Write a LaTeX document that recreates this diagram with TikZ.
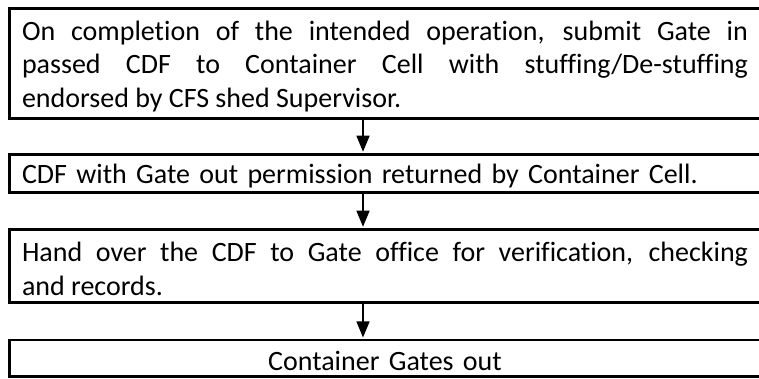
\documentclass[tikz,border=0pt]{standalone}
\usepackage{fontspec}
\setmainfont{Carlito}[Ligatures={NoCommon}]
\usetikzlibrary{arrows.meta}
\hyphenpenalty=10000\relax
\exhyphenpenalty=10000\relax
\begin{document}
\begin{tikzpicture}[x=1pt,y=-1pt,
  box/.style={draw, line width=2.5pt, minimum width=751pt, text width=726pt,
    inner xsep=0pt, inner ysep=0pt,
    font=\fontsize{28}{33.4}\selectfont,
    execute at begin node={\rule{0pt}{25.5pt}}},
  arr/.style={line width=1.3pt, -{Triangle[length=16pt,width=13pt]}, shorten >=1.3pt}]
\useasboundingbox (0,0) rectangle (759,379);
\clip (0,0) rectangle (759,379);
\node[box, align=justify, minimum height=110.4pt] (b1) at (385,63.5)
  {On completion of the intended operation, submit Gate in\linebreak passed CDF to Container Cell with stuffing/De-stuffing\linebreak endorsed by CFS shed Supervisor.};
\node[box, align=left, minimum height=38.4pt] (b2) at (385,173.5)
  {CDF with Gate out permission returned by Container Cell.};
\node[box, align=justify, minimum height=73.4pt] (b3) at (385,266)
  {Hand over the CDF to Gate office for verification, checking\linebreak and records.};
\node[box, align=center, minimum height=36.5pt] (b4) at (385,358.25)
  {Container Gates out};
\coordinate (ax) at (363,0);
\draw[arr] (b1.south -| ax) -- (b2.north -| ax);
\draw[arr] (b2.south -| ax) -- (b3.north -| ax);
\draw[arr] (b3.south -| ax) -- (b4.north -| ax);
\end{tikzpicture}
\end{document}
